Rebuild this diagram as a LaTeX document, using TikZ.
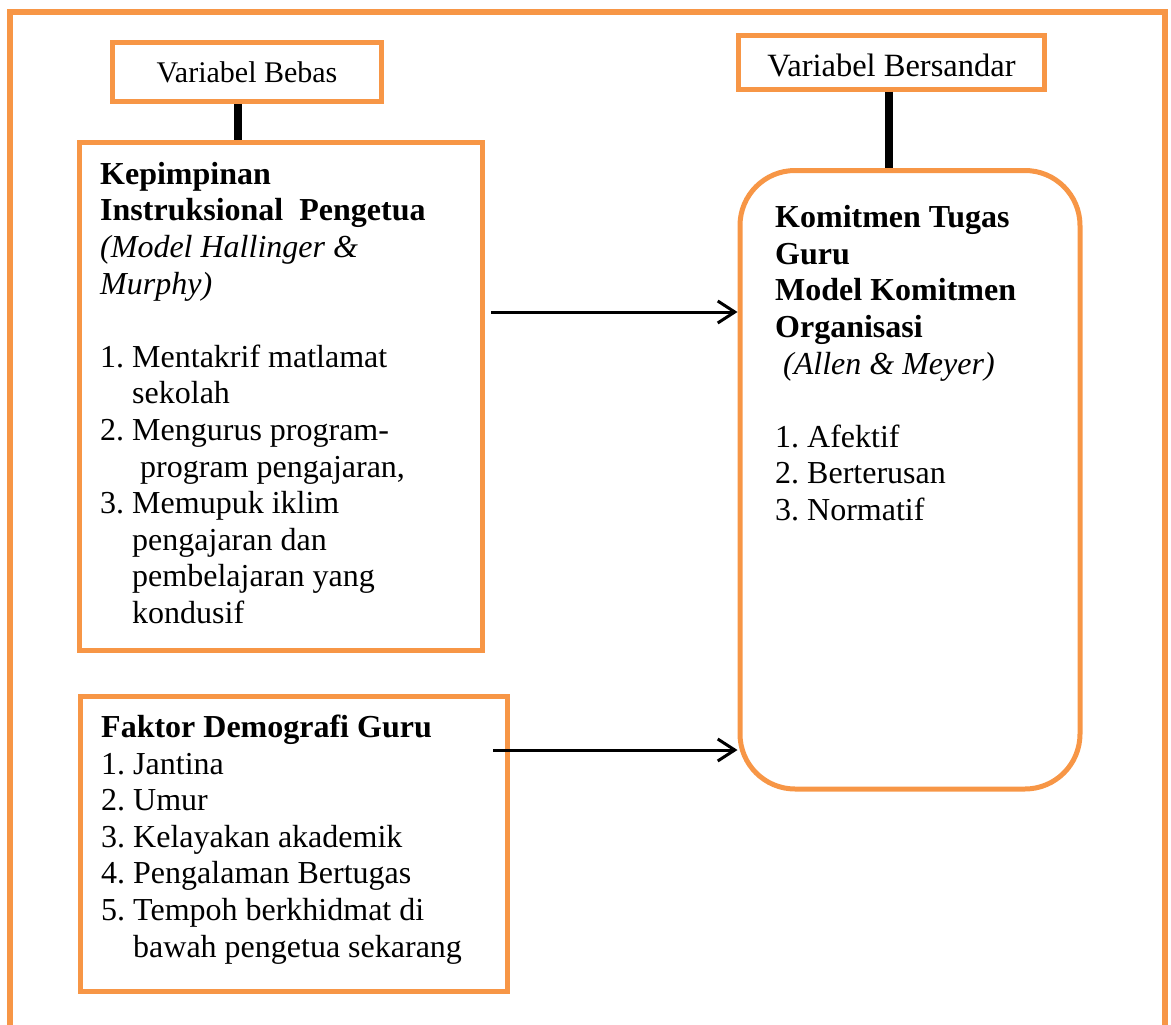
\documentclass[tikz,border=0pt]{standalone}
\usepackage{fontspec}
\setmainfont{Liberation Serif}
\usetikzlibrary{arrows.meta}
\definecolor{orng}{RGB}{247,150,70}
\newcommand{\numbx}[1]{\makebox[32pt][l]{#1}}
\begin{document}
\begin{tikzpicture}[x=1pt,y=-1pt,
  box/.style={draw=orng,line width=5pt,inner sep=0pt},
  bar/.style={line width=8pt},
  arr/.style={line width=3pt,-{Straight Barb[length=17pt,width=22pt]}},
  txt/.style={anchor=base west,align=left,inner sep=0pt,font=\fontsize{32}{36.6}\selectfont}]
\useasboundingbox (0,0) rectangle (1171,1025);
% outer frame
\draw[orng,line width=5.5pt] (10,1025) -- (10,12) -- (1165,12) -- (1165,1025);
% boxes
\node[box,minimum width=269pt,minimum height=59pt] (vb) at (247,72) {};
\node[box,minimum width=306pt,minimum height=54pt] (vs) at (891.5,62.5) {};
\node[box,minimum width=403pt,minimum height=507.5pt] (kep) at (280.5,396.25) {};
\node[box,minimum width=340pt,minimum height=618.5pt,rounded corners=55pt] (kom) at (910,479.75) {};
\node[box,minimum width=427pt,minimum height=295pt] (dem) at (293.5,843.5) {};
% header texts
\node[anchor=base,inner sep=0pt,font=\fontsize{30}{34}\selectfont] (vbt) at (247,82) {Variabel Bebas};
\node[anchor=base,inner sep=0pt,font=\fontsize{32.5}{36}\selectfont] (vst) at (891.5,77) {Variabel Bersandar};
% bars
\draw[bar] ([xshift=-9pt]vb.south) -- ([xshift=-9pt]vb.south |- kep.north);
\draw[bar] ([xshift=-2.5pt]vs.south) -- ([xshift=-2.5pt]vs.south |- kom.north);
% arrows
\coordinate (s1) at (491,312);
\coordinate (s2) at (493,750);
\draw[arr] (s1) -- (s1 -| kom.west);
\draw[arr] (s2) -- (s2 -| kom.west);
% box texts (anchor is the baseline of the last line)
\node[txt] (kept) at (100,623.5) {\textbf{Kepimpinan}\\
\textbf{Instruksional\ \ Pengetua}\\
\textit{(Model Hallinger \&}\\
\textit{Murphy)}\\[36.6pt]
\numbx{1.}Mentakrif matlamat\\
\hspace*{32pt}sekolah\\
\numbx{2.}Mengurus program-\\
\hspace*{40pt}program pengajaran,\\
\numbx{3.}Memupuk iklim\\
\hspace*{32pt}pengajaran dan\\
\hspace*{32pt}pembelajaran yang\\
\hspace*{32pt}kondusif};
\node[txt] (komt) at (775,520.5) {\textbf{Komitmen Tugas}\\
\textbf{Guru}\\
\textbf{Model Komitmen}\\
\textbf{Organisasi}\\
\hspace*{8pt}\textit{(Allen \& Meyer)}\\[36.6pt]
\numbx{1.}Afektif\\
\numbx{2.}Berterusan\\
\numbx{3.}Normatif};
\node[txt] (demt) at (101,957) {\textbf{Faktor Demografi Guru}\\
\numbx{1.}Jantina\\
\numbx{2.}Umur\\
\numbx{3.}Kelayakan akademik\\
\numbx{4.}Pengalaman Bertugas\\
\numbx{5.}Tempoh berkhidmat di\\
\hspace*{32pt}bawah pengetua sekarang};
\end{tikzpicture}
\end{document}
